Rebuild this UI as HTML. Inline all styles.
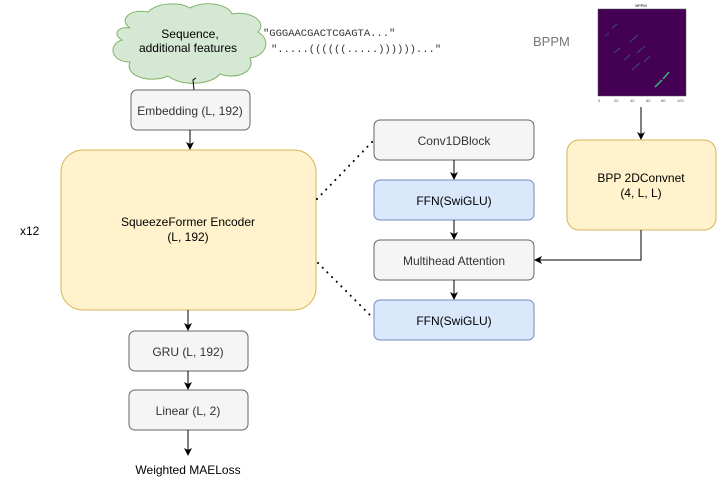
<!DOCTYPE html>
<html><head><style>
body{margin:0;background:#fff;}
svg text{font-family:"Liberation Sans",sans-serif;font-size:12px;}
svg text.tiny{font-size:4px;}
svg text.mono{font-family:"Liberation Mono",monospace;font-size:10.5px;}
</style></head><body>
<svg width="717" height="486" viewBox="0 0 717 486" xmlns="http://www.w3.org/2000/svg">
<defs><marker id="a" markerWidth="8" markerHeight="8" refX="7" refY="4" orient="auto" markerUnits="userSpaceOnUse"><path d="M0,0 L8,4 L0,8 L2,4 Z" fill="#000"/></marker></defs>
<!-- cloud -->
<path d="M130,28 C118,20 130,8 148,12 C158,2 180,2 190,8 C205,0 228,4 232,14 C250,10 268,22 258,32 C272,40 266,56 250,58 C256,72 236,80 220,74 C210,86 180,86 168,76 C150,84 124,76 130,62 C110,62 108,44 122,40 C112,34 118,26 130,28 Z" fill="#d5e8d4" stroke="#82b366"/>
<text x="190" y="38" text-anchor="middle">Sequence,</text>
<text x="188" y="52" text-anchor="middle">additional features</text>
<text x="263" y="36" class="mono" fill="#333">"GGGAACGACTCGAGTA..."</text>
<text x="271" y="52" class="mono" fill="#333">".....((((((.....))))))..."</text>
<path d="M196,78 L193,80 L194,90" fill="none" stroke="#000"/>
<!-- left column -->
<rect x="131" y="90" width="119" height="40" rx="6" fill="#f5f5f5" stroke="#666"/>
<text x="190" y="115" text-anchor="middle" fill="#333">Embedding (L, 192)</text>
<line x1="190" y1="130" x2="190" y2="149" stroke="#000" marker-end="url(#a)"/>
<rect x="61" y="150" width="255" height="160" rx="22" fill="#fff2cc" stroke="#d6b656"/>
<text x="188" y="226" text-anchor="middle">SqueezeFormer Encoder</text>
<text x="188" y="241" text-anchor="middle">(L, 192)</text>
<text x="20" y="235">x12</text>
<line x1="188" y1="310" x2="188" y2="330" stroke="#000" marker-end="url(#a)"/>
<rect x="129" y="331" width="119" height="40" rx="6" fill="#f5f5f5" stroke="#666"/>
<text x="188" y="356" text-anchor="middle" fill="#333">GRU (L, 192)</text>
<line x1="188" y1="371" x2="188" y2="389" stroke="#000" marker-end="url(#a)"/>
<rect x="129" y="390" width="119" height="40" rx="6" fill="#f5f5f5" stroke="#666"/>
<text x="188" y="415" text-anchor="middle" fill="#333">Linear (L, 2)</text>
<line x1="188" y1="430" x2="188" y2="455" stroke="#000" marker-end="url(#a)"/>
<text x="188" y="474" text-anchor="middle">Weighted MAELoss</text>
<!-- dotted -->
<line x1="317" y1="199" x2="373" y2="141" stroke="#000" stroke-width="2" stroke-dasharray="0.1 6.5" stroke-linecap="round"/>
<line x1="318" y1="263" x2="373" y2="318" stroke="#000" stroke-width="2" stroke-dasharray="0.1 6.5" stroke-linecap="round"/>
<!-- middle column -->
<rect x="374" y="120" width="160" height="40" rx="6" fill="#f5f5f5" stroke="#666"/>
<text x="454" y="145" text-anchor="middle" fill="#333">Conv1DBlock</text>
<line x1="454" y1="160" x2="454" y2="179" stroke="#000" marker-end="url(#a)"/>
<rect x="374" y="180" width="160" height="40" rx="6" fill="#dae8fc" stroke="#6c8ebf"/>
<text x="454" y="205" text-anchor="middle">FFN(SwiGLU)</text>
<line x1="454" y1="220" x2="454" y2="239" stroke="#000" marker-end="url(#a)"/>
<rect x="374" y="240" width="160" height="40" rx="6" fill="#f5f5f5" stroke="#666"/>
<text x="454" y="265" text-anchor="middle" fill="#333">Multihead Attention</text>
<line x1="454" y1="280" x2="454" y2="299" stroke="#000" marker-end="url(#a)"/>
<rect x="374" y="300" width="160" height="40" rx="6" fill="#dae8fc" stroke="#6c8ebf"/>
<text x="454" y="325" text-anchor="middle">FFN(SwiGLU)</text>
<!-- right -->
<text x="533" y="46" fill="#777" style="font-size:13px">BPPM</text>
<rect x="598" y="9" width="88" height="87" fill="#440154" stroke="#555" stroke-width="0.5"/>
<text x="641" y="7" text-anchor="middle" class="tiny">BPPM</text>
<g stroke="#3b5e8c" stroke-width="1" opacity="0.8">
<line x1="612" y1="28" x2="617" y2="24"/><line x1="605" y1="36" x2="609" y2="33"/>
<line x1="630" y1="42" x2="638" y2="35"/><line x1="614" y1="53" x2="620" y2="48"/>
<line x1="637" y1="53" x2="645" y2="46"/><line x1="624" y1="60" x2="630" y2="55"/>
<line x1="632" y1="70" x2="640" y2="63"/><line x1="644" y1="62" x2="650" y2="56"/>
</g>
<g stroke="#35b779" stroke-width="1.5"><line x1="655" y1="87" x2="662" y2="80"/><line x1="663" y1="79" x2="669" y2="72"/></g>
<g fill="#555"><text x="598" y="102" class="tiny">0</text><text x="614" y="102" class="tiny">20</text><text x="630" y="102" class="tiny">40</text><text x="646" y="102" class="tiny">60</text><text x="661" y="102" class="tiny">80</text><text x="677" y="102" class="tiny">100</text></g>
<line x1="641" y1="107" x2="641" y2="139" stroke="#000" marker-end="url(#a)"/>
<rect x="567" y="140" width="149" height="90" rx="12" fill="#fff2cc" stroke="#d6b656"/>
<text x="641" y="182" text-anchor="middle">BPP 2DConvnet</text>
<text x="641" y="197" text-anchor="middle">(4, L, L)</text>
<path d="M641,230 L641,260 L535,260" fill="none" stroke="#000" marker-end="url(#a)"/>
</svg>
</body></html>
